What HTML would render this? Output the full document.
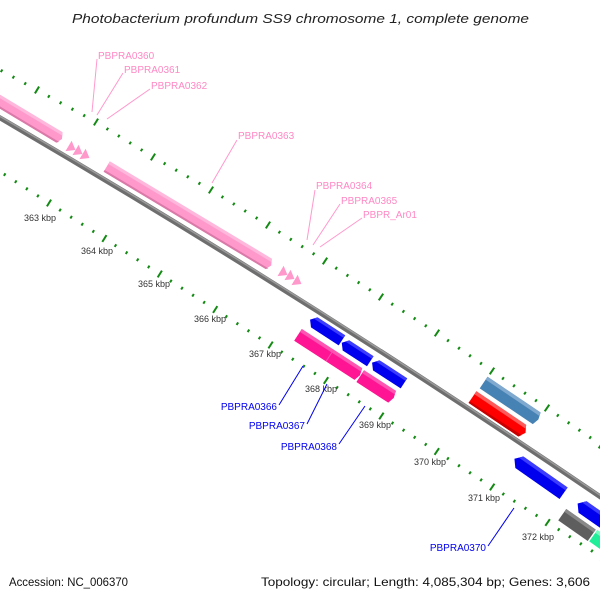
<!DOCTYPE html>
<html><head><meta charset="utf-8"><style>
html,body{margin:0;padding:0;background:#fff}
svg{display:block}
text{font-family:"Liberation Sans","DejaVu Sans",sans-serif}
</style></head><body>
<svg id="s" width="600" height="600" viewBox="0 0 600 600" xmlns="http://www.w3.org/2000/svg">
<rect width="600" height="600" fill="#fff"/>
<text x="72" y="23" font-size="13" font-style="italic" fill="#222" textLength="457" lengthAdjust="spacingAndGlyphs">Photobacterium profundum SS9 chromosome 1, complete genome</text>
<g id="ticks"></g>
<path d="M-5,115 Q300,292.5 605,500" fill="none" stroke="#6e6e6e" stroke-width="5"/>
<path d="M-5,113.5 Q300,291 605,498.5" fill="none" stroke="#9a9a9a" stroke-width="1.5"/>

<g transform="translate(62,139) rotate(31)">
<polygon points="-140,-6 -3,-6 0,0 -3,6 -140,6" fill="#ff99cc"/>
<polygon points="-140,-6 -3,-6 -1.5,-3 -140,-3" fill="#ffb8dc"/>
<polygon points="-140,4 -1,4 -3,6 -140,6" fill="#d97aa9"/>
</g>
<g fill="#ff99cc">
<g transform="translate(72,148) rotate(31)"><polygon points="-4,-6 4,0 -4,6"/></g>
<g transform="translate(79,152) rotate(31)"><polygon points="-4,-6 4,0 -4,6"/></g>
<g transform="translate(86,156) rotate(31)"><polygon points="-4,-6 4,0 -4,6"/></g>
<g transform="translate(284,273) rotate(31)"><polygon points="-4,-6 4,0 -4,6"/></g>
<g transform="translate(291,277) rotate(31)"><polygon points="-4,-6 4,0 -4,6"/></g>
<g transform="translate(298,282) rotate(31)"><polygon points="-4,-6 4,0 -4,6"/></g>
</g>
<g transform="translate(189,216) rotate(31)">
<polygon points="-96,-6 93,-6 96,0 93,6 -96,6" fill="#ff99cc"/>
<polygon points="-96,-6 93,-6 94.5,-3 -96,-3" fill="#ffb8dc"/>
<polygon points="-96,4 95,4 93,6 -96,6" fill="#d97aa9"/>
</g>

<g transform="translate(326,330) rotate(33) scale(-1,1)">
<polygon points="-19,-6 14,-6 19,0 14,6 -19,6" fill="#0000ee"/>
<polygon points="-19,-6 14,-6 16.5,-3 -19,-3" fill="#3c3cff"/>
</g>
<g transform="translate(356,352) rotate(33) scale(-1,1)">
<polygon points="-17,-6 12,-6 17,0 12,6 -17,6" fill="#0000ee"/>
<polygon points="-17,-6 12,-6 14.5,-3 -17,-3" fill="#3c3cff"/>
</g>
<g transform="translate(388,373) rotate(33) scale(-1,1)">
<polygon points="-19,-6 14,-6 19,0 14,6 -19,6" fill="#0000ee"/>
<polygon points="-19,-6 14,-6 16.5,-3 -19,-3" fill="#3c3cff"/>
</g>
<g transform="translate(329,355) rotate(33)">
<polygon points="-37,-7 35,-7 37,0 35,7 -37,7" fill="#ff1493"/>
<polygon points="-37,-7 35,-7 36,-3.5 -37,-3.5" fill="#ff55b2"/>
<line x1="1" y1="-7" x2="1" y2="7" stroke="#ff4fae" stroke-width="1"/>
</g>
<g transform="translate(377,387) rotate(33)">
<polygon points="-20,-7 18,-7 20,0 18,7 -20,7" fill="#ff1493"/>
<polygon points="-20,-7 18,-7 19,-3.5 -20,-3.5" fill="#ff55b2"/>
</g>
<g transform="translate(511,401) rotate(34)">
<polygon points="-33,-7 31,-7 33,0 31,7 -33,7" fill="#4682b4"/>
<polygon points="-33,-7 31,-7 32,-3.5 -33,-3.5" fill="#7fa9cf"/>
</g>
<g transform="translate(499,415) rotate(34)">
<polygon points="-32,-7 28,-7 32,0 28,7 -32,7" fill="#ff0000"/>
<polygon points="-32,-7 28,-7 30,-3.5 -32,-3.5" fill="#ff5a5a"/>
<polygon points="-32,5 30,4 28,7 -32,7" fill="#c80000"/>
</g>
<g transform="translate(539,476) rotate(35) scale(-1,1)">
<polygon points="-30,-7 24,-7 30,0 24,7 -30,7" fill="#0000ee"/>
<polygon points="-30,-7 24,-7 27,-3.5 -30,-3.5" fill="#3c3cff"/>
</g>
<g transform="translate(594,515) rotate(35) scale(-1,1)">
<polygon points="-20,-7 14,-7 20,0 14,7 -20,7" fill="#0000ee"/>
<polygon points="-20,-7 14,-7 17,-3.5 -20,-3.5" fill="#3c3cff"/>
</g>
<g transform="translate(577,525) rotate(35)">
<polygon points="-18,-7 18,-7 18,7 -18,7" fill="#5e5e5e"/>
<polygon points="-18,-7 18,-7 18,-3.5 -18,-3.5" fill="#888"/>
</g>
<g transform="translate(608,546) rotate(35)">
<polygon points="-18,-7 18,-7 18,7 -18,7" fill="#22ee99"/>
<polygon points="-18,-7 18,-7 18,-3.5 -18,-3.5" fill="#77ffc0"/>
</g>

<g font-size="9" fill="#333" text-anchor="middle">
<text x="40" y="221">363 kbp</text>
<text x="97" y="254">364 kbp</text>
<text x="154" y="287">365 kbp</text>
<text x="210" y="322">366 kbp</text>
<text x="265" y="357">367 kbp</text>
<text x="321" y="392">368 kbp</text>
<text x="375" y="428">369 kbp</text>
<text x="430" y="465">370 kbp</text>
<text x="484" y="501">371 kbp</text>
<text x="538" y="540">372 kbp</text>
</g>

<g font-size="10" fill="#ff88c4">
<text x="98" y="59">PBPRA0360</text>
<text x="124" y="73">PBPRA0361</text>
<text x="151" y="89">PBPRA0362</text>
<text x="238" y="139">PBPRA0363</text>
<text x="316" y="189">PBPRA0364</text>
<text x="341" y="204">PBPRA0365</text>
<text x="363" y="218">PBPR_Ar01</text>
</g>
<g stroke="#ff99cc" stroke-width="1" fill="none">
<line x1="97" y1="59" x2="92" y2="112"/>
<line x1="123" y1="73" x2="97" y2="115"/>
<line x1="150" y1="89" x2="107" y2="119"/>
<line x1="237" y1="140" x2="212" y2="183"/>
<line x1="315" y1="190" x2="307" y2="240"/>
<line x1="340" y1="204" x2="313" y2="245"/>
<line x1="362" y1="218" x2="320" y2="247"/>
</g>
<g font-size="10" fill="#0000ee" text-anchor="end">
<text x="277" y="410">PBPRA0366</text>
<text x="305" y="429">PBPRA0367</text>
<text x="337" y="450">PBPRA0368</text>
<text x="486" y="551">PBPRA0370</text>
</g>
<g stroke="#0000ee" stroke-width="1">
<line x1="279" y1="405" x2="303" y2="366"/>
<line x1="307" y1="424" x2="327" y2="384"/>
<line x1="339" y1="444" x2="365" y2="406"/>
<line x1="488" y1="546" x2="514" y2="508"/>
</g>

<text x="9" y="586" font-size="12" fill="#111" textLength="119" lengthAdjust="spacingAndGlyphs">Accession: NC_006370</text>
<text x="261" y="586" font-size="12" fill="#111" textLength="329" lengthAdjust="spacingAndGlyphs">Topology: circular; Length: 4,085,304 bp; Genes: 3,606</text>
</svg>
<script>
(function(){
var g=document.getElementById('ticks');var ns='http://www.w3.org/2000/svg';
function tick(x,y,len,ang){var a=ang*Math.PI/180,dx=Math.sin(a)*len/2,dy=-Math.cos(a)*len/2;
var l=document.createElementNS(ns,'line');l.setAttribute('x1',x-dx);l.setAttribute('y1',y-dy);l.setAttribute('x2',x+dx);l.setAttribute('y2',y+dy);
l.setAttribute('stroke','#138a13');l.setAttribute('stroke-width','2');g.appendChild(l);}
function row(pts){
var p=pts.slice();var f=p[0],s=p[1];p.unshift([2*f[0]-s[0],2*f[1]-s[1]]);
var n=p.length,l=p[n-1],m=p[n-2];p.push([2*l[0]-m[0],2*l[1]-m[1]]);
for(var i=0;i<p.length;i++){var ang=31+p[i][0]/600*4;tick(p[i][0],p[i][1],8,ang);
if(i<p.length-1){for(var k=1;k<5;k++){var x=p[i][0]+(p[i+1][0]-p[i][0])*k/5,y=p[i][1]+(p[i+1][1]-p[i][1])*k/5;tick(x,y,3,ang);}}}}
row([[37,90],[96,122],[153,157],[211,190],[268,225],[325,261],[381,297],[437,333],[492,371],[547,408],[601,445]]);
var lo=[];for(var i=0;i<10;i++)lo.push([49+55.4*i,203+35.5*i]);row(lo);
})();
</script>
</body></html>
